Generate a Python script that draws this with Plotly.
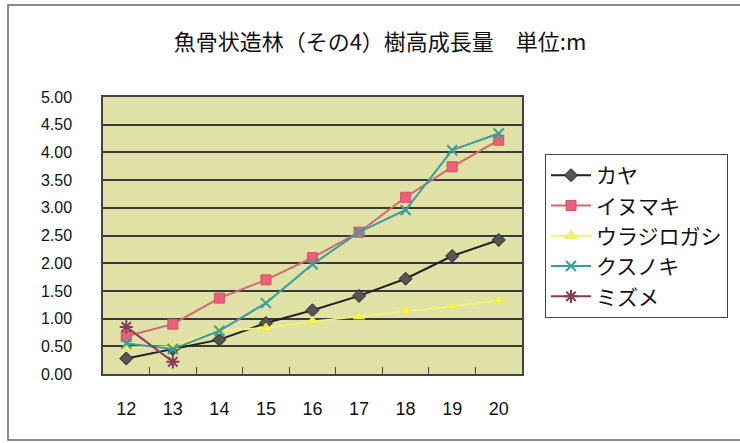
import plotly.graph_objects as go

# 樹高成長量（単位: m）
years = ["12", "13", "14", "15", "16", "17", "18", "19", "20"]
kaya = [0.28, 0.45, 0.62, 0.92, 1.15, 1.41, 1.72, 2.13, 2.42]
inumaki = [0.68, 0.90, 1.37, 1.70, 2.10, 2.56, 3.19, 3.74, 4.22]
urajirogashi = [0.48, 0.50, 0.78, 0.83, 0.95, 1.04, 1.14, 1.22, 1.33]
kusunoki = [0.55, 0.45, 0.78, 1.28, 1.98, 2.56, 2.96, 4.04, 4.34]
mizume = [0.85, 0.22, None, None, None, None, None, None, None]
y_ticks = [0, 0.5, 1, 1.5, 2, 2.5, 3, 3.5, 4, 4.5, 5]

series = [
    ("カヤ", kaya, dict(color="#222222", width=2),
     dict(symbol="diamond", size=10, color="#555555", line=dict(color="#222222", width=1))),
    ("イヌマキ", inumaki, dict(color="#cc6a70", width=2),
     dict(symbol="square", size=10, color="#ee5f78", line=dict(color="#d0506a", width=1))),
    ("ウラジロガシ", urajirogashi, dict(color="#f2f27a", width=2),
     dict(symbol="triangle-up", size=10, color="#f4f25a", line=dict(color="#e8e64a", width=1))),
    ("クスノキ", kusunoki, dict(color="#3a9c9c", width=2),
     dict(symbol="x-thin-open", size=10, color="#3a9c9c", line=dict(color="#3a9c9c", width=2))),
    ("ミズメ", mizume, dict(color="#8a3a58", width=2),
     dict(symbol="asterisk-open", size=11, color="#8a3a58", line=dict(color="#8a3a58", width=2))),
]

fig = go.Figure()
for name, vals, ln, mk in series:
    fig.add_trace(go.Scatter(x=years, y=vals, name=name, mode="lines+markers",
                             line=ln, marker=mk, connectgaps=False))

W, H = 740, 443
L, R, T, B = 103, 522, 97, 374


def px(x):
    return (x - L) / (R - L)


def py(y):
    return (B - y) / (B - T)


fig.update_layout(
    width=W, height=H,
    margin=dict(l=L, r=W - R, t=T, b=H - B),
    paper_bgcolor="white",
    plot_bgcolor="#dfe1a6",
    font=dict(family="Liberation Sans, Arial, sans-serif", color="#111111", size=16),
    title=dict(text="魚骨状造林（その4）樹高成長量　単位:m",
               font=dict(family="Noto Sans CJK JP", size=22, color="#111111"),
               x=380 / W, xanchor="center", xref="container",
               y=1 - 42 / H, yanchor="middle", yref="container"),
    legend=dict(
        x=545 / W, y=1 - 154 / H, xref="container", yref="container",
        xanchor="left", yanchor="top",
        font=dict(family="Noto Sans CJK JP", size=21, color="#111111"),
        bordercolor="#444444", borderwidth=1, bgcolor="white",
        itemwidth=40, tracegroupgap=0,
    ),
    showlegend=True,
    shapes=[
        dict(type="rect", xref="paper", yref="paper",
             x0=px(8), x1=px(760), y0=py(440), y1=py(5),
             line=dict(color="#666666", width=1.5), layer="below"),
    ],
)

fig.update_xaxes(
    type="category", range=[-0.5, 8.5],
    showline=True, mirror=True, linecolor="#444444", linewidth=1.5,
    ticks="inside", tickson="boundaries", ticklen=7, tickcolor="#444444",
    showgrid=False, ticklabelstandoff=18,
    tickfont=dict(family="Liberation Sans Narrow, Liberation Sans, sans-serif", size=18),
)
fig.update_yaxes(
    range=[0, 5], tickvals=y_ticks, tickformat=".2f",
    showline=True, mirror=True, linecolor="#444444", linewidth=1.5,
    showgrid=True, gridcolor="#3a3a3a", gridwidth=1.5, zeroline=False,
    ticks="", ticklabelstandoff=26,
    tickfont=dict(size=16),
)

fig.write_html("out.html")
